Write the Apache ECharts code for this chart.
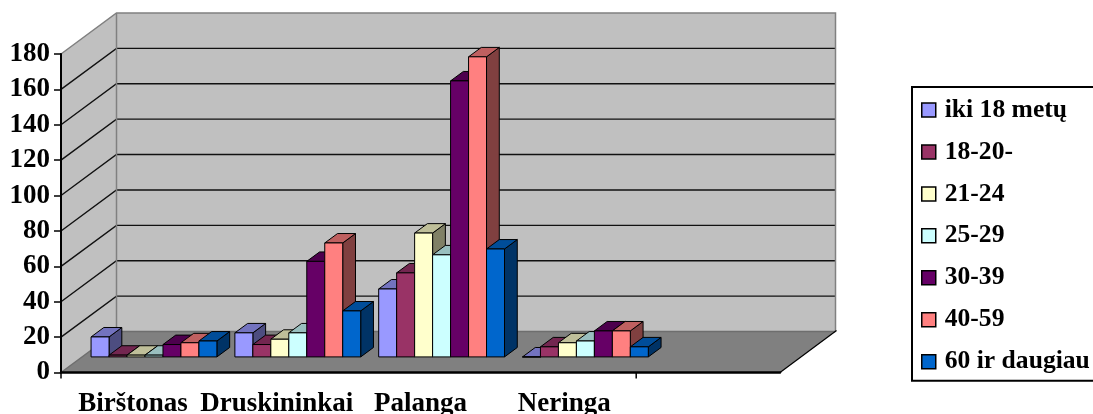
<!DOCTYPE html>
<html><head><meta charset="utf-8">
<style>html,body{margin:0;padding:0;background:#fff;overflow:hidden}#c{width:1093px;height:414px}</style>
<script src="https://cdn.jsdelivr.net/npm/echarts@6/dist/echarts.min.js"></script>
</head><body><div id="c"></div>
<script>
const categories = ['Birštonas','Druskininkai','Palanga','Neringa',''];
const tickedBands = [0,4];
const yTicks = [0,20,40,60,80,100,120,140,160,180];
const seriesNames = ['iki 18 metų','18-20-','21-24','25-29','30-39','40-59','60 ir daugiau'];
const iki18 = [11.3,13.6,38.4,0];
const y18_20 = [1,7,47.5,5.7];
const y21_24 = [1,10,70,8];
const y25_29 = [1,13.6,57.7,9];
const y30_39 = [7,54,156,14.7];
const y40_59 = [8,64.4,169.6,14.7];
const y60 = [9,26,61,5.7];
const allValues = [iki18,y18_20,y21_24,y25_29,y30_39,y40_59,y60];
const frontColors = ['#9999FF','#993366','#FFFFCC','#CCFFFF','#660066','#FF8080','#0066CC'];
const topColors = ['#7373BF','#732650','#BFBF99','#99BFBF','#4D004D','#BF6060','#004D99'];
const sideColors = ['#4D4D80','#4D1A33','#808066','#668080','#330033','#804040','#003366'];

const DX = 55.5, DY = 41;              // full floor depth in screen pixels
const NEAR = 0.38, FAR = 0.61;         // bar depth range as share of floor depth
const edge = '#808080', gridCol = '#111';

function poly(points, fill, stroke, lw){
  return {type:'polygon', shape:{points}, style:{fill, stroke, lineWidth:lw}};
}
function seg(x1,y1,x2,y2,stroke,lw){
  return {type:'polyline', shape:{points:[[x1,y1],[x2,y2]]}, style:{fill:'none',stroke,lineWidth:lw}};
}
function renderWalls(params, api){
  const cs = params.coordSys, L = cs.x, R = cs.x + cs.width;
  const y0 = api.coord([0,0])[1], yMax = api.coord([0,yTicks[yTicks.length-1]])[1];
  const band = api.size([1,0])[0];
  const kids = [
    poly([[L,y0],[L+DX,y0-DY],[L+DX,yMax-DY],[L,yMax]],'#C0C0C0','none',0),
    poly([[L+DX,y0-DY],[R+DX,y0-DY],[R+DX,yMax-DY],[L+DX,yMax-DY]],'#C0C0C0','none',0),
    poly([[L,y0],[R,y0],[R+DX,y0-DY],[L+DX,y0-DY]],'#808080','none',0)
  ];
  yTicks.slice(1,-1).forEach(t=>{
    const y = api.coord([0,t])[1];
    kids.push({type:'polyline',shape:{points:[[L,y],[L+DX,y-DY],[R+DX,y-DY]]},style:{fill:'none',stroke:gridCol,lineWidth:1.4}});
  });
  kids.push({type:'polyline',shape:{points:[[L,yMax],[L+DX,yMax-DY],[R+DX,yMax-DY],[R+DX,y0-DY]]},style:{fill:'none',stroke:edge,lineWidth:1.5}});
  kids.push(seg(L+DX,yMax-DY,L+DX,y0-DY,edge,1.5));
  kids.push({type:'polyline',shape:{points:[[L,y0],[L+DX,y0-DY],[R+DX,y0-DY]]},style:{fill:'none',stroke:'#6E6E6E',lineWidth:1.5}});
  kids.push(seg(R,y0,R+DX+1,y0-DY-1,'#000',1.2));
  tickedBands.forEach(i=>{
    const x = api.coord([i,0])[0] - band/2;
    kids.push(seg(x,y0,x,y0+6,'#000',1.5));
  });
  return {type:'group',children:kids};
}
function renderBar(j){
  return function(params, api){
    const cat = api.value(0), val = api.value(1);
    const band = api.size([1,0])[0], w = band/8;
    const c0 = api.coord([cat,0]), c1 = api.coord([cat,val]);
    const x = c0[0] - band/2 + w/2 + j*w + DX*NEAR;
    const yB = c0[1] - DY*NEAR, yT = c1[1] - DY*NEAR;
    const dx = DX*(FAR-NEAR), dy = DY*(FAR-NEAR);
    const sc = '#000';
    return {type:'group',children:[
      poly([[x+w,yB],[x+w+dx,yB-dy],[x+w+dx,yT-dy],[x+w,yT]],sideColors[j],sc,1),
      poly([[x,yT],[x+w,yT],[x+w+dx,yT-dy],[x+dx,yT-dy]],topColors[j],sc,1),
      poly([[x,yB],[x+w,yB],[x+w,yT],[x,yT]],frontColors[j],sc,1)
    ]};
  };
}
const chart = echarts.init(document.getElementById('c'),null,{renderer:'canvas'});
const font = '"Liberation Serif","Times New Roman",serif';
chart.setOption({
  animation:false,
  backgroundColor:'#fff',
  grid:{left:61,right:313,top:54,bottom:41.5,outerBoundsMode:'none'},
  legend:{
    left:912,top:87,orient:'vertical',data:seriesNames,icon:'rect',
    itemWidth:14,itemHeight:14,itemGap:15.95,
    padding:[10,12,6,9],
    borderColor:'#000',borderWidth:2,
    selectedMode:false,
    itemStyle:{borderColor:'#000',borderWidth:1.5},
    textStyle:{fontFamily:font,fontWeight:'bold',fontSize:25.6,lineHeight:26,color:'#000',padding:[0,0,0,4]}
  },
  xAxis:{
    type:'category',data:categories,z:5,
    axisLine:{lineStyle:{color:'#000',width:2.5}},
    axisTick:{show:false},
    axisLabel:{interval:0,fontFamily:font,fontWeight:'bold',fontSize:27,color:'#000',margin:18},
    splitLine:{show:false}
  },
  yAxis:{
    type:'value',min:0,max:180,interval:20,z:5,
    axisLine:{show:true,lineStyle:{color:'#000',width:2}},
    axisTick:{show:true,length:7,lineStyle:{color:'#000',width:1.5}},
    axisLabel:{fontFamily:font,fontWeight:'bold',fontSize:27,color:'#000',margin:11,padding:[4,0,0,0]},
    splitLine:{show:false}
  },
  series:[
    {type:'custom',name:'walls',z:1,silent:true,data:[[0,0]],renderItem:renderWalls,encode:{x:0,y:1}}
  ].concat(seriesNames.map((n,j)=>({
    type:'custom',name:n,z:2+j,
    itemStyle:{color:frontColors[j],borderColor:'#000'},
    data:allValues[j].map((v,i)=>[i,v]),
    encode:{x:0,y:1},
    renderItem:renderBar(j)
  })))
});
</script></body></html>
